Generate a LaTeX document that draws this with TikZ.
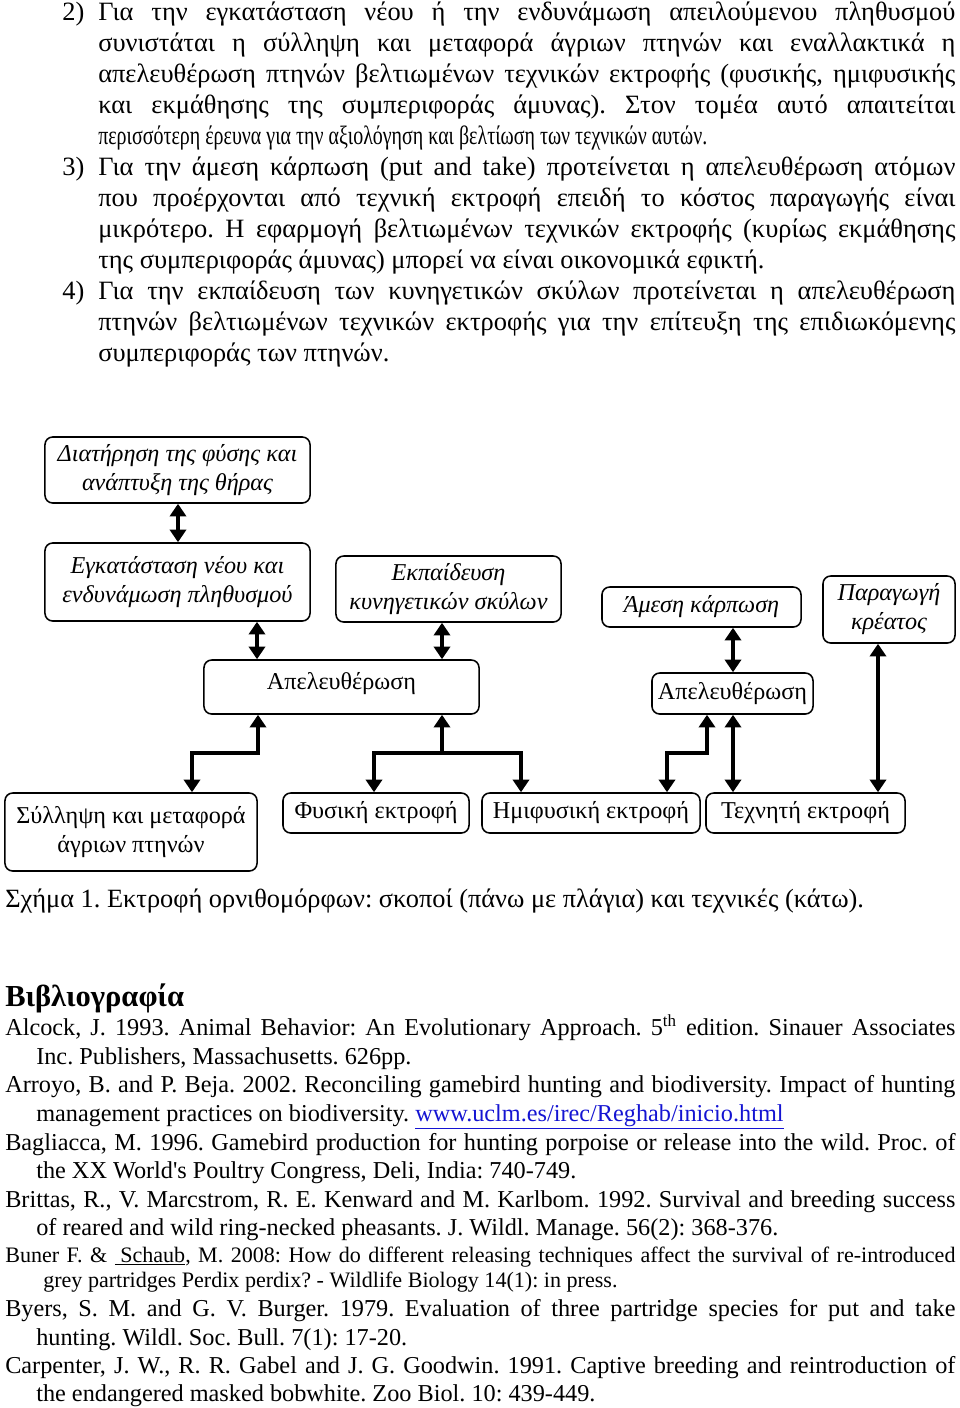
\documentclass[tikz,border=0pt]{standalone}
\usepackage{fontspec}
\setmainfont{Liberation Serif}
\usepackage{graphicx}
\usepackage{xcolor}
\usetikzlibrary{arrows.meta, positioning}
\definecolor{linkblue}{RGB}{20,20,210}
\frenchspacing
\newcommand{\bodysize}{\fontsize{18.8}{22}\selectfont}
\newcommand{\boxsize}{\fontsize{17.2}{20.6}\selectfont}
\newcommand{\refsize}{\fontsize{17.25}{20}\selectfont}
\newcommand{\smallref}{\fontsize{15.7}{18}\selectfont}

\tikzset{
  txt/.style={anchor=base west, inner sep=0pt, font=\bodysize},
  reftxt/.style={anchor=base west, inner sep=0pt, font=\refsize},
  box/.style={draw, line width=1.1pt, rounded corners=5.5pt, inner sep=0pt,
    align=center, font=\boxsize},
  goalbox/.style={box, font=\boxsize\itshape},
  dbl/.style={line width=2.9pt,
    {Triangle[width=11.5pt,length=9pt]}-{Triangle[width=11.5pt,length=9pt]}},
  arr/.style={line width=2.9pt, -{Triangle[width=11.5pt,length=9pt]}}
}

\begin{document}
\begin{tikzpicture}[x=0.025cm, y=-0.025cm]
    \useasboundingbox (0,0) rectangle (960,1408);

    % Numbered paragraphs
    \node[txt] (n2) at (62,20) {2)};
    \node[txt] (n3) at (62,175) {3)};
    \node[txt] (n4) at (62,299) {4)};
    \foreach \y/\t [count=\i] in {
        20/{Για την εγκατάσταση νέου ή την ενδυνάμωση απειλούμενου πληθυσμού},
        51/{συνιστάται η σύλληψη και μεταφορά άγριων πτηνών και εναλλακτικά η},
        82/{απελευθέρωση πτηνών βελτιωμένων τεχνικών εκτροφής (φυσικής, ημιφυσικής},
        113/{και εκμάθησης της συμπεριφοράς άμυνας). Στον τομέα αυτό απαιτείται},
        175/{Για την άμεση κάρπωση (put and take) προτείνεται η απελευθέρωση ατόμων},
        206/{που προέρχονται από τεχνική εκτροφή επειδή το κόστος παραγωγής είναι},
        237/{μικρότερο. Η εφαρμογή βελτιωμένων τεχνικών εκτροφής (κυρίως εκμάθησης},
        299/{Για την εκπαίδευση των κυνηγετικών σκύλων προτείνεται η απελευθέρωση},
        330/{πτηνών βελτιωμένων τεχνικών εκτροφής για την επίτευξη της επιδιωκόμενης}} {
        \node[txt] (body\i) at (98,\y) {\makebox[21.425cm][s]{\t}};
    }
    \node[txt] (last2) at (98,144)
        {\scalebox{0.755}[1]{περισσότερη έρευνα για την αξιολόγηση και βελτίωση των τεχνικών αυτών.}};
    \node[txt] (last3) at (98,268) {της συμπεριφοράς άμυνας) μπορεί να είναι οικονομικά εφικτή.};
    \node[txt] (last4) at (98,361) {συμπεριφοράς των πτηνών.};

    % Goals
    \node[goalbox, minimum width=6.625cm, minimum height=1.65cm] (goal) at (177.5,470)
        {Διατήρηση της φύσης και\\ανάπτυξη της θήρας};
    \node[goalbox, minimum width=6.625cm, minimum height=1.95cm] (resettle) at (177.5,582)
        {Εγκατάσταση νέου και\\ενδυνάμωση πληθυσμού};
    \node[goalbox, minimum width=5.625cm, minimum height=1.65cm] (dogtrain) at (448.5,589)
        {Εκπαίδευση\\κυνηγετικών σκύλων};
    \node[goalbox, minimum width=4.975cm, minimum height=1cm] (putake) at (701.5,607)
        {Άμεση κάρπωση};
    \node[goalbox, minimum width=3.3cm, minimum height=1.675cm] (meat) at (889,609.5)
        {Παραγωγή\\κρέατος};

    % Release
    \node[box, minimum width=6.875cm, minimum height=1.35cm, text depth=9pt] (release1) at (341.5,687) {Απελευθέρωση};
    \node[box, minimum width=4.025cm, minimum height=1.025cm] (release2) at (732.5,693.5) {Απελευθέρωση};

    % Techniques
    \node[box, minimum width=6.3cm, minimum height=1.95cm] (capture) at (131,832)
        {Σύλληψη και μεταφορά\\άγριων πτηνών};
    \node[box, minimum width=4.65cm, minimum height=1cm] (natural) at (376,813) {Φυσική εκτροφή};
    \node[box, minimum width=5.45cm, minimum height=1cm] (seminat) at (591,813) {Ημιφυσική εκτροφή};
    \node[box, minimum width=4.975cm, minimum height=1cm] (artificial) at (805.5,813) {Τεχνητή εκτροφή};

    % Straight links
    \foreach \a/\b/\x in {goal/resettle/178, resettle/release1/257, dogtrain/release1/442,
        putake/release2/733, release2/artificial/733, meat/artificial/878} {
        \draw[dbl] (\a.south -| \x,0) -- (\b.north -| \x,0);
    }

    % Elbow links
    \draw[dbl] (release1.south -| 258,0) |- (192,753) -- (capture.north -| 192,0);
    \draw[dbl] (release1.south -| 442,0) |- (374,753) -- (natural.north -| 374,0);
    \draw[arr] (442,753) -| (seminat.north -| 521,0);
    \draw[dbl] (release2.south -| 707,0) |- (667,753) -- (seminat.north -| 667,0);

    % Caption
    \node[anchor=base west, inner sep=0pt, font=\fontsize{18.75}{22}\selectfont] (caption) at (5,907)
        {Σχήμα 1. Εκτροφή ορνιθομόρφων: σκοποί (πάνω με πλάγια) και τεχνικές (κάτω).};

    % References
    \node[anchor=base west, inner sep=0pt, font=\fontsize{21.7}{24}\selectfont\bfseries] (refhead) at (5,1006) {Βιβλιογραφία};
    \foreach \y/\t [count=\i] in {
        1035/{Alcock, J. 1993. Animal Behavior: An Evolutionary Approach. 5\textsuperscript{th} edition. Sinauer Associates},
        1092/{Arroyo, B. and P. Beja. 2002. Reconciling gamebird hunting and biodiversity. Impact of hunting},
        1150/{Bagliacca, M. 1996. Gamebird production for hunting porpoise or release into the wild. Proc. of},
        1207/{Brittas, R., V. Marcstrom, R. E. Kenward and M. Karlbom. 1992. Survival and breeding success},
        1316/{Byers, S. M. and G. V. Burger. 1979. Evaluation of three partridge species for put and take},
        1373/{Carpenter, J. W., R. R. Gabel and J. G. Goodwin. 1991. Captive breeding and reintroduction of}} {
        \node[reftxt] (ref\i) at (5,\y) {\makebox[23.75cm][s]{\t}};
    }
    \node[reftxt] (ref1b) at (36,1064) {Inc. Publishers, Massachusetts. 626pp.};
    \node[reftxt] (ref2b) at (36,1121) {management practices on biodiversity. \textcolor{linkblue}{\underline{www.uclm.es/irec/Reghab/inicio.html}}};
    \node[reftxt] (ref3b) at (36,1178) {the XX World\textquotesingle s Poultry Congress, Deli, India: 740-749.};
    \node[reftxt] (ref4b) at (36,1235) {of reared and wild ring-necked pheasants. J. Wildl. Manage. 56(2): 368-376.};
    \node[anchor=base west, inner sep=0pt, font=\smallref] (ref5) at (5,1262)
        {\makebox[23.75cm][s]{Buner F. \& \underline{ Schaub}, M. 2008: How do different releasing techniques affect the survival of re-introduced}};
    \node[anchor=base west, inner sep=0pt, font=\smallref] (ref5b) at (43,1287)
        {grey partridges Perdix perdix? - Wildlife Biology 14(1): in press.};
    \node[reftxt] (ref6b) at (36,1345) {hunting. Wildl. Soc. Bull. 7(1): 17-20.};
    \node[reftxt] (ref7b) at (36,1401) {the endangered masked bobwhite. Zoo Biol. 10: 439-449.};
\end{tikzpicture}
\end{document}
